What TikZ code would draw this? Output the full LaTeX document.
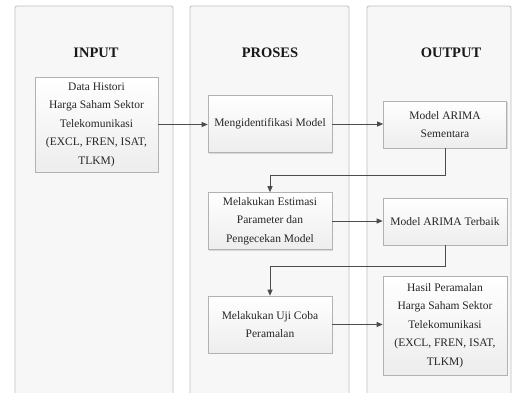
\documentclass[tikz,border=0pt]{standalone}
\usepackage{fontspec}
\setmainfont{Liberation Serif}
\usetikzlibrary{arrows.meta,shadows}
\begin{document}
\begin{tikzpicture}[x=1pt,y=-1pt,
  column/.style={draw=gray!50,fill=gray!6,line width=0.8pt,rounded corners=2pt},
  title/.style={font=\fontsize{14.5}{16}\selectfont\bfseries,text=black!90},
  procbox/.style={draw=gray!60,line width=0.6pt,top color=white,bottom color=gray!14,
    align=center,inner sep=1pt,text=black!85,
    font=\fontsize{11.5}{18.5}\selectfont,
    drop shadow={shadow xshift=1pt,shadow yshift=-1pt,opacity=0.25}},
  link/.style={draw=black!70,line width=0.9pt,-{Triangle[length=6pt,width=5pt]}}]
\useasboundingbox (0,0) rectangle (514,392);
% columns
\path[column] (15,6) rectangle (173,400);
\path[column] (190,6) rectangle (349,400);
\path[column] (367,6) rectangle (511,400);
% titles
\node[title] (tin) at (96,53) {INPUT};
\node[title] (tpr) at (270,53) {PROSES};
\node[title] (tout) at (451,53) {OUTPUT};
% boxes
\node[procbox,minimum width=123pt,minimum height=95pt] (in) at (96.5,124.5)
  {Data Histori\\Harga Saham Sektor\\Telekomunikasi\\(EXCL, FREN, ISAT,\\TLKM)};
\node[procbox,minimum width=124pt,minimum height=57pt] (mid1) at (270,124)
  {Mengidentifikasi Model};
\node[procbox,minimum width=123pt,minimum height=47pt] (out1) at (445,124.5)
  {Model ARIMA\\Sementara};
\node[procbox,minimum width=124pt,minimum height=57pt] (mid2) at (270,221)
  {Melakukan Estimasi\\Parameter dan\\Pengecekan Model};
\node[procbox,minimum width=124pt,minimum height=47pt] (out2) at (445,221.5)
  {Model ARIMA Terbaik};
\node[procbox,minimum width=124pt,minimum height=57pt] (mid3) at (270,324.5)
  {Melakukan Uji Coba\\Peramalan};
\node[procbox,minimum width=124pt,minimum height=99pt] (out3) at (445,325.5)
  {Hasil Peramalan\\Harga Saham Sektor\\Telekomunikasi\\(EXCL, FREN, ISAT,\\TLKM)};
% connectors
\coordinate (k1) at (270,175);
\coordinate (k2) at (270,266);
\draw[link] (in.east) -- (in.east -| mid1.west);
\draw[link] (mid1.east) -- (mid1.east -| out1.west);
\draw[link] (out1.south) |- (k1) -- (mid2.north);
\draw[link] (mid2.east) -- (mid2.east -| out2.west);
\draw[link] (out2.south) |- (k2) -- (mid3.north);
\draw[link] (mid3.east) -- (mid3.east -| out3.west);
\end{tikzpicture}
\end{document}
